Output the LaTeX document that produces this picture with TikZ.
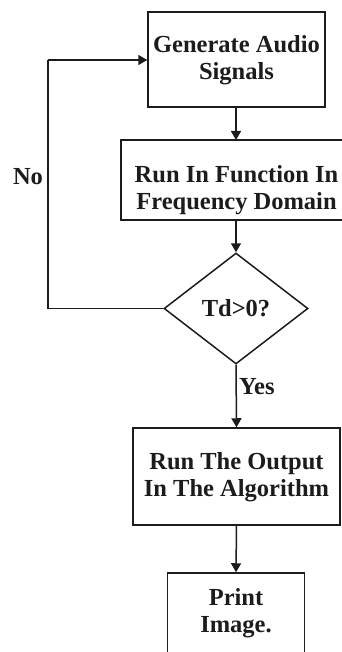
\documentclass[tikz,border=0pt]{standalone}
\usepackage{fontspec}
\setmainfont{Liberation Serif}
\usetikzlibrary{shapes.geometric,arrows.meta}
\definecolor{ink}{HTML}{1C1C1C}
\begin{document}
\begin{tikzpicture}[x=1pt,y=-1pt,
  every node/.style={font=\fontsize{24.5}{27}\selectfont\bfseries, text=ink},
  stepbox/.style={draw=ink, line width=1.5pt, rectangle, inner sep=0pt},
  textonly/.style={align=center, inner sep=0pt},
  decision/.style={draw=ink, line width=1.5pt, diamond, inner sep=0pt,
    minimum width=144pt, minimum height=111pt},
  flow/.style={draw=ink, line width=1.5pt, -{Triangle[length=9pt,width=10pt]}},
  link/.style={draw=ink, line width=1.5pt}]
\clip (0,0) rectangle (342,652);
\fill[white] (0,0) rectangle (342,652);

% process boxes
\node[stepbox, minimum width=177pt, minimum height=95pt] (gen) at (236.5,59.5) {};
\node[textonly] (gentxt) at (236.5,60) {Generate Audio\\Signals};

\node[stepbox, minimum width=225pt, minimum height=80pt] (run) at (233.5,180) {};
\node[textonly] (runtxt) at (236.5,190) {Run In Function In\\Frequency Domain};

\node[decision] (dec) at (236,308.5) {};
\node[textonly] (dectxt) at (236,308) {Td>0?};

\node[stepbox, minimum width=207pt, minimum height=97pt] (alg) at (236.5,476.5) {};
\node[textonly] (algtxt) at (236.5,477) {Run The Output\\In The Algorithm};

\node[stepbox, minimum width=137pt, minimum height=90pt] (out) at (236,618) {};
\node[textonly] (outtxt) at (236,613) {Print\\Image.};

% connectors
\coordinate (runtop) at (236,140);
\coordinate (runbot) at (236,220);
\draw[flow] (gen.south -| runtop) -- (runtop);
\draw[flow] (runbot) -- (dec.north);
\draw[flow] (dec.south) -- (alg.north);
\draw[flow] (alg.south) -- (out.north);

% loop back on "No"
\coordinate (loopdown) at (48,308.5);
\coordinate (loopup) at (48,60);
\draw[link] (dec.west) -- (loopdown) -- (loopup);
\draw[flow] (loopup) -- (gen.west |- loopup);

% branch labels
\node[textonly, anchor=west] (yes) at (239,387) {Yes};
\node[textonly] (no) at (28,177) {No};
\end{tikzpicture}
\end{document}
